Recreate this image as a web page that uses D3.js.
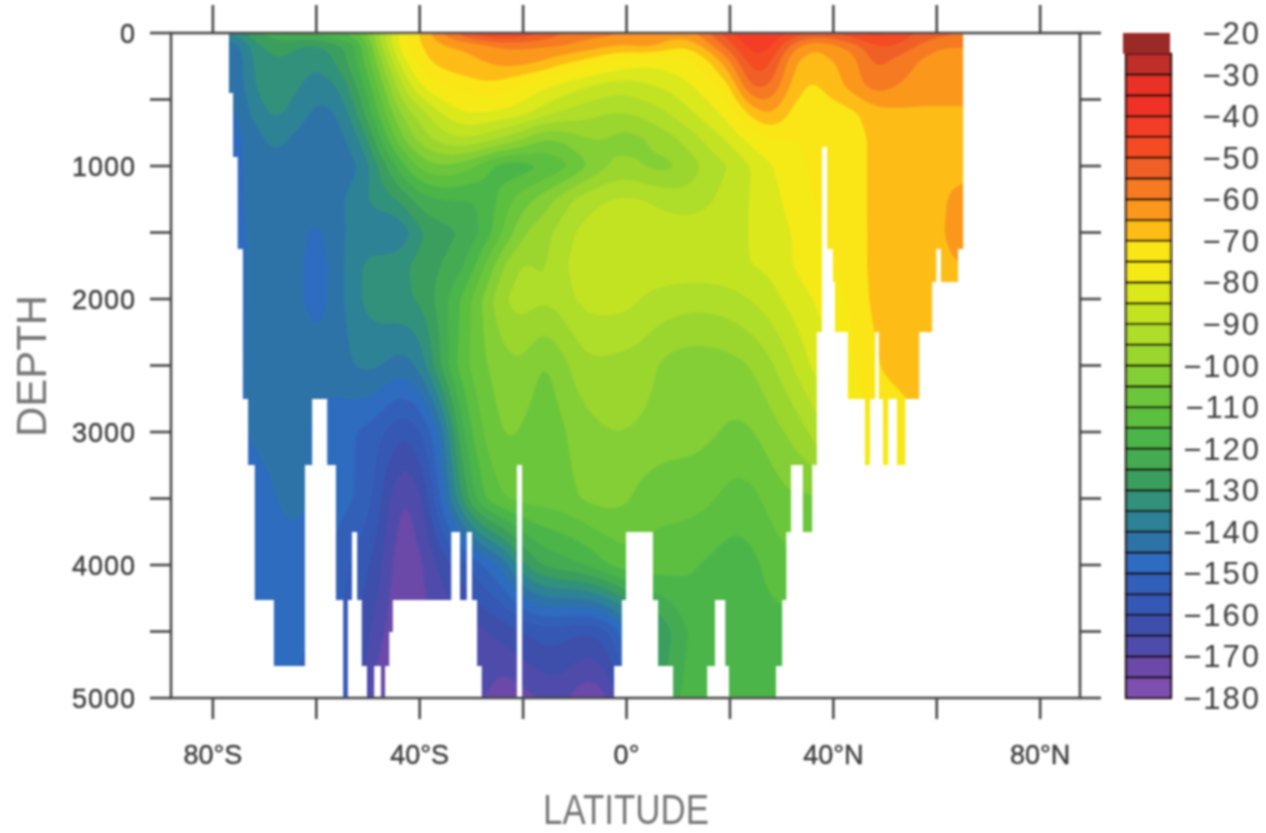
<!DOCTYPE html>
<html><head><meta charset="utf-8">
<style>html,body{margin:0;padding:0;background:#fff}svg{display:block}text{font-family:"Liberation Sans",Arial,sans-serif}</style>
<script src="https://cdn.jsdelivr.net/npm/d3@7"></script></head><body>
<svg id="c" width="1266" height="833"></svg>
<script>
const lats=[-76,-72,-68,-64,-60,-56,-52,-48,-44,-40,-36,-32,-28,-24,-20,-16,-12,-8,-4,0,4,8,12,16,20,24,28,32,36,40,44,48,52,56,60,64];
const depths=[0,100,200,400,600,800,1000,1250,1500,1750,2000,2500,3000,3500,4000,4500,5000];
const row0=[-135,-125,-122,-120,-118,-115,-112,-95,-78,-70,-60,-52,-45,-42,-45,-50,-55,-58,-58,-60,-60,-62,-62,-55,-45,-40,-40,-45,-50,-50,-45,-42,-45,-50,-52,-55];
const row100=[-145,-132,-127,-130,-132,-127,-122,-98,-78,-70,-66,-65,-63,-60,-60,-60,-60,-62,-64,-66,-62,-68,-70,-62,-52,-42,-43,-58,-66,-62,-58,-50,-50,-55,-60,-60];
const row200=[-146,-133,-130,-131,-135,-129,-120,-103,-83,-72,-67,-66,-65,-62,-62,-64,-68,-70,-74,-76,-78,-77,-76,-70,-60,-45,-47,-65,-67,-65,-62,-52,-56,-60,-62,-62];
const row400=[-146,-134,-131,-134,-138,-136,-125,-110,-92,-80,-75,-73,-71,-72,-76,-79,-82,-85,-87,-88,-86,-84,-81,-77,-72,-52,-55,-67,-72,-67,-63,-57,-60,-62,-62,-62];
const row600=[-147,-138,-133,-137,-142,-141,-130,-115,-100,-92,-85,-80,-80,-81,-83,-88,-91,-93,-95,-95,-93,-90,-86,-82,-78,-68,-63,-72,-74,-73,-71,-67,-66,-66,-66,-66];
const row800=[-147,-143,-137,-142,-143,-143,-137,-122,-107,-98,-93,-90,-92,-96,-100,-106,-104,-100,-100,-103,-100,-97,-93,-88,-84,-78,-75,-75,-74,-73,-73,-68,-67,-67,-67,-67];
const row1000=[-147,-143,-142,-143,-143,-143,-142,-130,-118,-108,-105,-107,-112,-119,-118,-115,-112,-106,-100,-98,-101,-102,-98,-93,-90,-85,-80,-77,-74,-73,-73,-68,-67,-67,-67,-67];
const row1250=[-147,-143,-142,-143,-143,-142,-137,-133,-130,-122,-120,-120,-120,-113,-107,-103,-97,-92,-90,-89,-90,-92,-93,-91,-87,-85,-82,-78,-75,-73,-73,-68,-67,-67,-67,-63];
const row1500=[-148,-143,-142,-143,-147,-142,-137,-139,-141,-130,-127,-125,-120,-110,-100,-97,-92,-88,-87,-87,-87,-87,-87,-87,-86,-85,-83,-80,-76,-74,-73,-68,-67,-67,-67,-62];
const row1750=[-148,-143,-142,-143,-148,-143,-135,-133,-132,-128,-125,-122,-112,-100,-93,-97,-90,-87,-87,-87,-87,-87,-87,-87,-86,-85,-84,-80,-77,-75,-73,-68,-67,-67,-67,-65];
const row2000=[-148,-143,-142,-143,-148,-143,-135,-132,-131,-130,-123,-115,-105,-95,-92,-95,-92,-88,-88,-88,-91,-92,-93,-93,-92,-90,-87,-83,-80,-77,-74,-68,-67,-67,-67,-66];
const row2500=[-147,-143,-141,-142,-143,-143,-139,-139,-143,-140,-125,-112,-106,-102,-100,-107,-101,-96,-96,-97,-98,-102,-103,-103,-102,-100,-96,-90,-84,-80,-75,-71,-67,-67,-67,-67];
const row3000=[-147,-144,-143,-143,-146,-148,-150,-153,-160,-157,-145,-120,-110,-104,-105,-110,-105,-102,-100,-100,-101,-103,-103,-104,-106,-106,-102,-99,-94,-87,-76,-76,-76,-70,-70,-70];
const row3500=[-148,-148,-145,-143,-146,-148,-150,-157,-172,-168,-150,-130,-115,-110,-108,-108,-107,-104,-103,-104,-108,-108,-108,-109,-112,-112,-108,-105,-107,-100,-90,-80,-80,-75,-75,-75];
const row4000=[-150,-150,-148,-147,-148,-152,-157,-162,-175,-172,-163,-158,-150,-145,-130,-124,-122,-120,-115,-112,-112,-113,-114,-116,-118,-117,-113,-111,-110,-105,-100,-90,-85,-80,-80,-80];
const row4500=[-150,-150,-150,-149,-150,-155,-160,-168,-175,-172,-170,-168,-166,-163,-160,-157,-158,-160,-158,-145,-132,-127,-118,-120,-118,-117,-117,-117,-115,-110,-105,-95,-90,-85,-85,-85];
const row5000=[-150,-150,-150,-150,-152,-158,-162,-175,-178,-175,-172,-170,-168,-175,-172,-169,-168,-175,-172,-160,-135,-122,-118,-119,-118,-118,-118,-118,-115,-110,-105,-95,-90,-85,-85,-85];
const rows=[row0,row100,row200,row400,row600,row800,row1000,row1250,row1500,row1750,row2000,row2500,row3000,row3500,row4000,row4500,row5000];

// ocean extent by depth layer: [top, bottom, lat ranges]
const ocean=[
[0,450,[[-76.9,65.1]]],
[450,860,[[-76.1,65.1]]],
[860,930,[[-76.1,37.8],[38.8,65.1]]],
[930,1625,[[-75.2,37.8],[38.8,65.1]]],
[1625,1870,[[-74.2,37.8],[39.9,59.9],[60.8,64.1]]],
[1870,2250,[[-74.2,37.8],[40.3,59.1]]],
[2250,2750,[[-74.2,36.8],[42.8,48.1],[48.8,56.6]]],
[2750,3250,[[-73.2,-60.8],[-57.9,36.8],[46.1,47.1],[49.6,50.6],[52.3,53.9]]],
[3250,3750,[[-71.9,-62.2],[-56.2,-21.2],[-20.2,31.8],[34.1,35.9]]],
[3750,4260,[[-71.9,-62.2],[-56.2,-53.1],[-52.1,-33.9],[-32.2,-30.9],[-29.9,-21.2],[-20.2,-0.1],[5.1,30.9]]],
[4260,4500,[[-68.2,-62.2],[-54.8,-53.9],[-51.2,-45.2],[-28.9,-21.2],[-20.2,-0.9],[6.1,17.1],[19.1,30.1]]],
[4500,4760,[[-68.2,-62.2],[-54.8,-53.9],[-51.2,-45.9],[-28.9,-21.2],[-20.2,-0.9],[6.1,17.1],[19.1,30.1]]],
[4760,5000,[[-54.8,-53.9],[-50.2,-48.8],[-47.5,-46.7],[-28,-21.2],[-20.2,-2.4],[9,15.6],[19.8,28.9]]]
];

const levels=d3.range(-180,-15,5);           // -180 … -20
const bandColors=["#7f4fb0","#6a4aa8","#4f4bab","#3d50ab","#3658b4","#3261b9","#2e6cc0","#2e73a8","#2f8295","#33917a","#3a9e5e","#44ab52","#4cb548","#5cbf40","#6cc63a","#84cf34","#9ad62e","#aedd2a","#c2e324","#dbe81c","#f5ea16","#fae512","#fdbd18","#fb981e","#f67a20","#f06028","#f44b24","#f43c26","#f03228","#e83028","#c02d2a","#9a2a28"];
const latTicks=[-80,-60,-40,-20,0,20,40,60,80];
const latLabelled=new Map([[-80,"80°S"],[-40,"40°S"],[0,"0°"],[40,"40°N"],[80,"80°N"]]);
const depthTicks=d3.range(0,5001,500);
const depthLabelled=[0,1000,2000,3000,4000,5000];
const barLabels=d3.range(-20,-181,-10);

const M={l:171,r:1080,t:33,b:698};
const x=d3.scaleLinear([-88.1,87.7],[M.l,M.r]);
const y=d3.scaleLinear([0,5000],[M.t,M.b]);
const svg=d3.select("#c");
const defs=svg.append("defs");
defs.append("filter").attr("id","soft").attr("filterUnits","userSpaceOnUse").attr("x",0).attr("y",0).attr("width",1266).attr("height",833)
  .append("feGaussianBlur").attr("stdDeviation",0.95);
const clip=defs.append("clipPath").attr("id","oc");
ocean.forEach(([a,b,spans])=>spans.forEach(([l,r])=>{
  const top=Math.round(y(a)),bot=Math.round(y(b));
  clip.append("rect").attr("x",x(l)).attr("width",x(r)-x(l)).attr("y",top).attr("height",bot-top);
}));
const root=svg.append("g").attr("filter","url(#soft)");

// rendering grid
const dLat=0.5,dDep=12.5,lat0=-80,dep0=-50;
const nx=Math.round((68-lat0)/dLat),ny=Math.round((5050-dep0)/dDep);
const bisect=(arr,v)=>{const c=Math.max(arr[0],Math.min(arr[arr.length-1],v));let i=d3.bisectRight(arr,c)-1;i=Math.min(i,arr.length-2);return [i,(c-arr[i])/(arr[i+1]-arr[i])];};
let grid=new Float64Array(nx*ny);
for(let j=0;j<ny;j++){const [r,t]=bisect(depths,dep0+(j+.5)*dDep);
  for(let i=0;i<nx;i++){const [c,u]=bisect(lats,lat0+(i+.5)*dLat);
    grid[j*nx+i]=(1-t)*((1-u)*rows[r][c]+u*rows[r][c+1])+t*((1-u)*rows[r+1][c]+u*rows[r+1][c+1]);}}
if(d3.blur2) d3.blur2({data:grid,width:nx,height:ny},3,2);

const proj=d3.geoTransform({point(px,py){this.stream.point(x(lat0+px*dLat),y(dep0+py*dDep));}});
const path=d3.geoPath(proj);
const field=root.append("g").attr("clip-path","url(#oc)");
field.append("rect").attr("x",x(-80)).attr("y",y(0)).attr("width",x(68)-x(-80)).attr("height",y(5000)-y(0)).attr("fill",bandColors[0]);
const thr=levels.slice(1,-1);
field.selectAll("path").data(d3.contours().size([nx,ny]).thresholds(thr)(Array.from(grid))).join("path")
  .attr("d",path).attr("fill",d=>bandColors[thr.indexOf(d.value)+1]);

// frame + ticks
const ink="#484848";
const ax=root.append("g").attr("stroke",ink).attr("stroke-width",2.6).attr("fill","none");
ax.append("rect").attr("x",M.l).attr("y",M.t).attr("width",M.r-M.l).attr("height",M.b-M.t);
const tl=21;
[[M.t,-28],[M.b,tl]].forEach(([yy,len])=>ax.selectAll(null).data(latTicks).join("line")
  .attr("x1",d=>x(d)).attr("x2",d=>x(d)).attr("y1",yy).attr("y2",yy+len));
[[M.l,-tl],[M.r,tl]].forEach(([xx,len])=>ax.selectAll(null).data(depthTicks).join("line")
  .attr("y1",d=>y(d)).attr("y2",d=>y(d)).attr("x1",xx).attr("x2",xx+len));

const txt="#3c3c3c";
root.append("g").selectAll("text").data([...latLabelled]).join("text")
  .attr("x",d=>x(d[0])).attr("y",764).attr("text-anchor","middle").attr("font-size",27).attr("fill",txt).attr("stroke",txt).attr("stroke-width",0.4).text(d=>d[1]);
root.append("g").selectAll("text").data(depthLabelled).join("text")
  .attr("x",136).attr("y",d=>y(d)+10).attr("text-anchor","end").attr("font-size",27).attr("letter-spacing",1).attr("fill",txt).attr("stroke",txt).attr("stroke-width",0.4).text(d=>d);
root.append("text").attr("x",626).attr("y",824).attr("text-anchor","middle").attr("font-size",42)
  .attr("textLength",166).attr("lengthAdjust","spacingAndGlyphs").attr("fill","#777").text("LATITUDE");
root.append("text").attr("transform","translate(46,366) rotate(-90)").attr("text-anchor","middle").attr("font-size",42)
  .attr("textLength",142).attr("lengthAdjust","spacingAndGlyphs").attr("fill","#777").text("DEPTH");

// colour bar
const yb=d3.scaleLinear([-20,-180],[33,698]);
const bar=root.append("g");
bar.selectAll("rect").data(d3.range(bandColors.length-1)).join("rect")
  .attr("x",1126).attr("width",45).attr("y",d=>yb(levels[d+1])).attr("height",d=>yb(levels[d])-yb(levels[d+1]))
  .attr("fill",d=>bandColors[d]).attr("stroke","#1c1008").attr("stroke-width",2.2);
bar.append("rect").attr("x",1123).attr("width",47).attr("y",yb(-20)).attr("height",yb(-25)-yb(-20)).attr("fill",bandColors[31]);
root.append("g").selectAll("text").data(barLabels).join("text")
  .attr("x",1261).attr("y",d=>yb(d)+11).attr("text-anchor","end").attr("font-size",31).attr("letter-spacing",2).attr("fill",txt)
  .text(d=>"\u2212"+Math.abs(d));
</script></body></html>
